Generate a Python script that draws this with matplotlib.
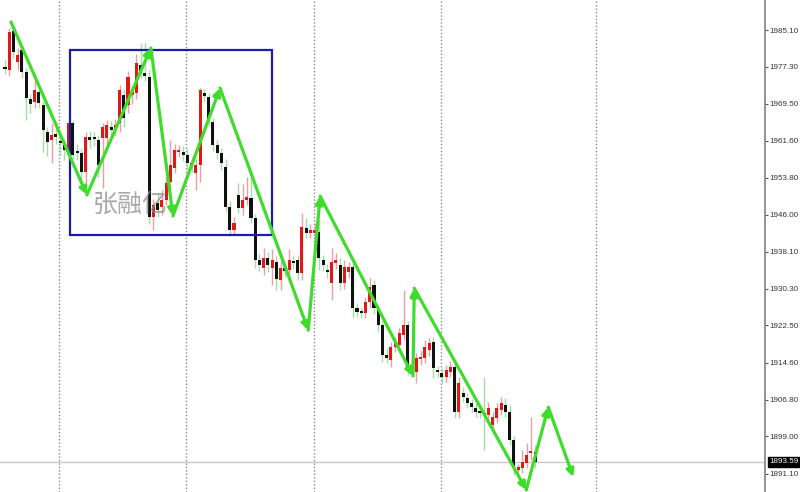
import matplotlib
matplotlib.use("Agg")
import matplotlib.pyplot as plt
import matplotlib.transforms as mtransforms
import numpy as np

# ---------------- data ----------------
opens = [1977.3, 1976.6, 1984.9, 1978.3, 1980.9, 1976.2, 1970.5, 1969.9, 1972.0, 1969.2,
         1963.5, 1961.8, 1963.1, 1961.6, 1961.2, 1959.3, 1965.4, 1959.5, 1959.1, 1955.0,
         1962.4, 1962.4, 1961.8, 1962.2, 1962.2, 1964.6, 1963.9, 1965.4, 1971.3, 1969.2,
         1971.3, 1971.8, 1977.7, 1976.0, 1975.2, 1945.5, 1948.5, 1947.6, 1949.1, 1952.9,
         1955.9, 1959.3, 1959.3, 1958.6, 1956.9, 1954.8, 1956.5, 1971.8, 1970.9, 1965.6,
         1960.7, 1959.1, 1956.1, 1947.6, 1942.7, 1950.2, 1947.4, 1949.1, 1949.5, 1945.3,
         1936.4, 1934.7, 1936.8, 1934.7, 1936.0, 1932.1, 1934.7, 1934.3, 1936.2, 1936.4,
         1933.6, 1943.2, 1942.1, 1942.1, 1942.3, 1936.4, 1934.3, 1931.5, 1935.7, 1935.3,
         1931.5, 1933.8, 1934.9, 1926.2, 1925.6, 1925.2, 1927.5, 1931.1, 1925.8, 1922.6,
         1916.3, 1915.2, 1917.9, 1918.4, 1920.5, 1922.6, 1913.7, 1912.7, 1915.4, 1915.6,
         1917.3, 1919.0, 1913.1, 1912.4, 1911.6, 1912.7, 1913.7, 1904.2, 1908.2, 1907.1,
         1906.1, 1905.0, 1904.2, 1904.0, 1903.5, 1901.4, 1902.9, 1904.6, 1905.7, 1904.2,
         1898.2, 1891.9, 1892.3, 1893.4, 1895.5, 1895.7]
closes = [1976.8, 1984.7, 1980.4, 1979.8, 1976.2, 1970.7, 1969.4, 1972.4, 1969.6, 1963.9,
          1961.4, 1962.9, 1962.4, 1961.2, 1959.7, 1965.4, 1958.6, 1959.1, 1955.0, 1962.4,
          1961.8, 1962.0, 1956.5, 1964.6, 1965.0, 1963.9, 1965.0, 1972.4, 1966.5, 1975.2,
          1972.0, 1978.1, 1976.0, 1975.4, 1945.5, 1948.0, 1947.0, 1949.1, 1952.7, 1956.5,
          1959.7, 1959.7, 1958.6, 1956.9, 1956.3, 1956.5, 1972.4, 1971.1, 1966.0, 1960.7,
          1959.1, 1956.9, 1947.6, 1942.7, 1944.2, 1947.4, 1949.1, 1949.7, 1945.3, 1936.4,
          1935.3, 1936.8, 1935.3, 1936.4, 1932.4, 1934.7, 1934.1, 1936.4, 1935.7, 1933.6,
          1943.4, 1942.1, 1942.7, 1942.7, 1936.8, 1935.3, 1933.8, 1936.0, 1936.4, 1931.5,
          1934.9, 1934.9, 1926.2, 1925.4, 1925.2, 1927.5, 1930.7, 1926.2, 1922.6, 1916.3,
          1915.6, 1917.9, 1918.8, 1920.9, 1922.6, 1913.7, 1913.1, 1915.6, 1915.8, 1917.9,
          1918.8, 1913.5, 1912.7, 1911.6, 1913.1, 1913.7, 1904.2, 1910.3, 1907.4, 1906.1,
          1905.2, 1904.2, 1904.0, 1903.5, 1905.0, 1903.1, 1905.0, 1906.1, 1904.2, 1898.2,
          1892.3, 1892.5, 1893.6, 1895.1, 1895.9, 1893.59]
highs = [1978.7, 1985.5, 1985.6, 1981.3, 1981.8, 1977.0, 1971.5, 1974.5, 1973.0, 1970.0,
         1964.5, 1965.4, 1964.3, 1963.0, 1962.0, 1966.5, 1966.0, 1961.0, 1960.0, 1963.5,
         1963.6, 1963.5, 1962.9, 1965.5, 1966.0, 1965.8, 1966.2, 1973.4, 1972.5, 1976.5,
         1973.5, 1980.0, 1982.4, 1982.4, 1976.6, 1949.2, 1950.5, 1951.2, 1954.0, 1961.8,
         1961.0, 1960.8, 1960.5, 1959.8, 1958.2, 1957.8, 1972.8, 1972.6, 1971.8, 1966.5,
         1961.8, 1960.2, 1957.8, 1948.8, 1945.4, 1952.7, 1952.5, 1954.0, 1954.0, 1946.2,
         1937.6, 1938.9, 1938.0, 1938.7, 1937.2, 1936.8, 1935.8, 1938.7, 1937.3, 1937.5,
         1946.3, 1945.3, 1944.0, 1944.2, 1944.9, 1937.5, 1935.5, 1938.9, 1937.8, 1936.8,
         1936.3, 1936.0, 1935.8, 1927.3, 1926.5, 1928.5, 1932.6, 1932.2, 1926.8, 1923.5,
         1917.5, 1919.0, 1920.0, 1922.0, 1930.0, 1923.5, 1914.7, 1916.6, 1917.0, 1919.5,
         1919.8, 1920.0, 1914.0, 1913.5, 1914.2, 1915.0, 1915.2, 1911.5, 1909.5, 1908.2,
         1907.0, 1906.0, 1905.2, 1911.6, 1906.2, 1904.2, 1906.0, 1907.3, 1907.1, 1905.6,
         1899.0, 1893.2, 1896.1, 1897.5, 1903.1, 1897.2]
lows = [1975.7, 1975.4, 1979.2, 1976.6, 1975.0, 1966.0, 1967.5, 1968.6, 1968.5, 1959.3,
        1958.5, 1956.9, 1961.0, 1958.6, 1957.5, 1957.5, 1957.8, 1957.5, 1953.0, 1952.5,
        1960.2, 1960.5, 1954.0, 1951.7, 1960.8, 1962.5, 1962.8, 1963.5, 1964.5, 1967.5,
        1969.5, 1970.5, 1975.0, 1974.2, 1944.0, 1942.7, 1945.5, 1946.0, 1948.0, 1951.5,
        1954.8, 1958.3, 1957.3, 1955.5, 1955.0, 1951.2, 1953.0, 1970.0, 1964.8, 1959.5,
        1957.8, 1955.4, 1946.6, 1941.5, 1941.8, 1946.3, 1945.9, 1948.0, 1944.3, 1934.7,
        1934.0, 1933.2, 1933.8, 1931.1, 1930.0, 1930.0, 1932.8, 1932.6, 1934.5, 1932.2,
        1932.1, 1941.0, 1941.0, 1940.5, 1934.3, 1934.0, 1932.6, 1927.9, 1934.5, 1930.0,
        1930.2, 1932.5, 1924.1, 1924.2, 1924.0, 1924.0, 1926.3, 1925.0, 1921.2, 1914.8,
        1914.5, 1913.8, 1916.8, 1917.3, 1919.5, 1912.0, 1911.8, 1910.3, 1914.2, 1914.5,
        1916.0, 1911.3, 1911.5, 1910.4, 1910.5, 1911.6, 1902.9, 1902.9, 1906.2, 1905.0,
        1904.2, 1903.2, 1902.8, 1896.1, 1902.5, 1899.9, 1901.8, 1903.5, 1903.2, 1897.2,
        1890.8, 1890.2, 1891.3, 1892.4, 1894.0, 1892.3]

# zigzag wave points (bar index, price)
wave_x = [1.4, 19.3, 34.4, 39.6, 50.7, 71.5, 74.3, 96.2, 96.5, 122.9, 128.1, 134.0]
wave_y = [1986.8, 1950.15, 1981.3, 1945.7, 1972.8, 1921.5, 1949.9, 1911.8, 1930.4, 1887.65, 1905.2, 1890.4]

# box (bar index range, price range)
box_x = [15.3, 63.0]
box_y = [1941.7, 1980.9]

grid_x = [12.75, 42.75, 72.75, 102.75, 139.25]
price_ticks = [1985.10, 1977.30, 1969.50, 1961.60, 1953.80, 1946.00, 1938.10,
               1930.30, 1922.50, 1914.60, 1906.80, 1899.00, 1891.10]
last_price = 1893.59
watermark = "张融亿"

# ---------------- plot ----------------
plt.rcParams['font.family'] = ['Noto Sans CJK SC', 'DejaVu Sans']
fig = plt.figure(figsize=(8.0, 4.92), dpi=100)
ax = fig.add_axes([0, 0, 765 / 800, 1])
ax.set_facecolor('white')

ax.set_xlim(-1.18, 179.2)
ax.set_ylim(1887.22, 1991.46)

for gx in grid_x:
    ax.axvline(gx, color='#888888', lw=1.0, ls=(0, (1, 1.5)), zorder=1)

ax.axhline(last_price, color='#c8c8c8', lw=1.0, zorder=1)

red = '#e01818'
blk = '#111111'
for i in range(len(opens)):
    o, c, h, l = opens[i], closes[i], highs[i], lows[i]
    up = c > o
    wick_col = '#eaa0a0' if up else '#a6dca6'
    ax.vlines(i, l, h, color=wick_col, lw=1.0, zorder=2)
    body_lo, body_hi = min(o, c), max(o, c)
    hgt = max(body_hi - body_lo, 0.35)
    ax.add_patch(plt.Rectangle((i - 0.36, body_lo), 0.72, hgt,
                               facecolor=red if up else blk,
                               edgecolor='none', zorder=3))

# blue box
ax.add_patch(plt.Rectangle((box_x[0], box_y[0]), box_x[1] - box_x[0], box_y[1] - box_y[0],
                           fill=False, edgecolor='#1c1ca8', lw=1.6, zorder=4))

# watermark
ax.text(29.5, 1948.0, watermark, fontsize=18, color='#8c8c8c', alpha=0.75,
        ha='center', va='center', zorder=5)

# green zigzag with arrow heads
green = '#3fdc2c'
for k in range(len(wave_x) - 1):
    ax.annotate('', xy=(wave_x[k + 1], wave_y[k + 1]), xytext=(wave_x[k], wave_y[k]),
                arrowprops=dict(arrowstyle='-|>', color=green, lw=2.3,
                                mutation_scale=11, shrinkA=0, shrinkB=0),
                zorder=6, annotation_clip=False)

# axes styling
for s in ['left', 'top', 'bottom']:
    ax.spines[s].set_visible(False)
ax.spines['right'].set_color('#808080')
ax.spines['right'].set_linewidth(1.2)
ax.set_xticks([])
ax.yaxis.tick_right()
ax.set_yticks(price_ticks)
ax.set_yticklabels([f"{p:.2f}" for p in price_ticks])
ax.tick_params(axis='y', direction='out', length=2.5, width=0.8, color='#555555',
               labelsize=5.8, labelcolor='#333333', pad=1)
for lab in ax.get_yticklabels():
    lab.set_family(['Liberation Sans'])

# last price label
trans = mtransforms.blended_transform_factory(ax.transAxes, ax.transData)
ax.text(1.006, last_price, f"{last_price:.2f}", transform=trans, fontsize=5.8,
        color='white', ha='left', va='center', family=['Liberation Sans'],
        bbox=dict(boxstyle='square,pad=0.15', facecolor='black', edgecolor='black'),
        zorder=10, clip_on=False)

fig.savefig('out.png', dpi=100, facecolor='white')
